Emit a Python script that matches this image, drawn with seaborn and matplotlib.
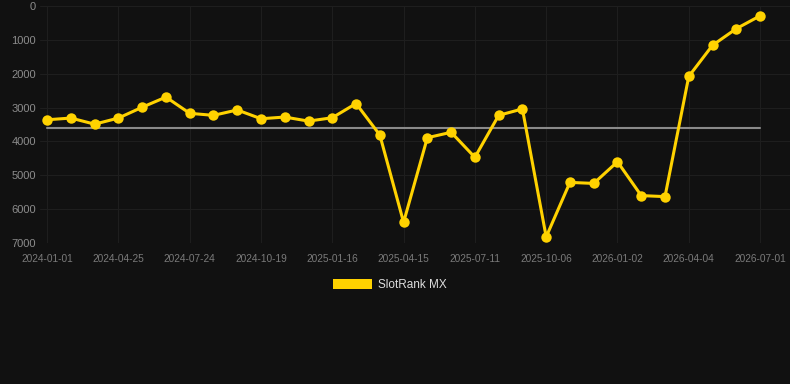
import numpy as np
import pandas as pd
import matplotlib
matplotlib.use('Agg')
import matplotlib.pyplot as plt
import seaborn as sns
from matplotlib.patches import Patch

# rank per snapshot, evenly spaced on the axis
ranks = [3360, 3310, 3490, 3310, 2990, 2690, 3170, 3230, 3070, 3330,
         3280, 3400, 3300, 2880, 3810, 6390, 3890, 3730, 4470, 3230,
         3040, 6820, 5210, 5240, 4600, 5600, 5630, 2080, 1160, 670, 290]
tick_labels = ['2024-01-01', '2024-04-25', '2024-07-24', '2024-10-19', '2025-01-16',
               '2025-04-15', '2025-07-11', '2025-10-06', '2026-01-02', '2026-04-04',
               '2026-07-01']
avg_rank = 3590

bg = '#111111'
yellow = '#ffd200'

sns.set_style('dark')
plt.rcParams['font.family'] = ['Liberation Sans', 'DejaVu Sans']

df = pd.DataFrame({'idx': np.arange(len(ranks)), 'rank': ranks})

fig = plt.figure(figsize=(7.9, 3.84), dpi=100, facecolor=bg)
ax = fig.add_axes([40 / 790, 1 - 243 / 384, 750 / 790, 237 / 384])
ax.set_facecolor(bg)

sns.lineplot(x='idx', y='rank', data=df, ax=ax, color=yellow, linewidth=2.2,
             marker='o', markersize=7.5, markeredgewidth=0, zorder=3)
ax.plot([0, len(ranks) - 1], [avg_rank, avg_rank], color='#8a8a8a', linewidth=1.5, zorder=2)

ax.set_ylim(7000, 0)
ax.set_xlim(-0.3, 31.26)
ax.set_yticks(range(0, 7001, 1000))
ax.set_xticks(np.arange(0, len(ranks), 3))
ax.set_xticklabels(tick_labels)
ax.tick_params(axis='y', labelsize=8, colors='#8c8c8c', length=0, pad=3)
ax.tick_params(axis='x', labelsize=7.3, colors='#7a7a7a', length=0, pad=8)
ax.grid(True, color='#1e1e1e', linewidth=0.8)
for s in ax.spines.values():
    s.set_visible(False)
ax.set_xlabel('')
ax.set_ylabel('')

handles = [Patch(facecolor=yellow, edgecolor='none', label='SlotRank MX')]
fig.legend(handles=handles, loc='center', bbox_to_anchor=(390 / 790, 1 - 285 / 384),
           frameon=False, fontsize=8.5, labelcolor='#dddddd',
           handlelength=3.3, handleheight=1.0, handletextpad=0.5)

fig.savefig('out.png', dpi=100, facecolor=bg)
